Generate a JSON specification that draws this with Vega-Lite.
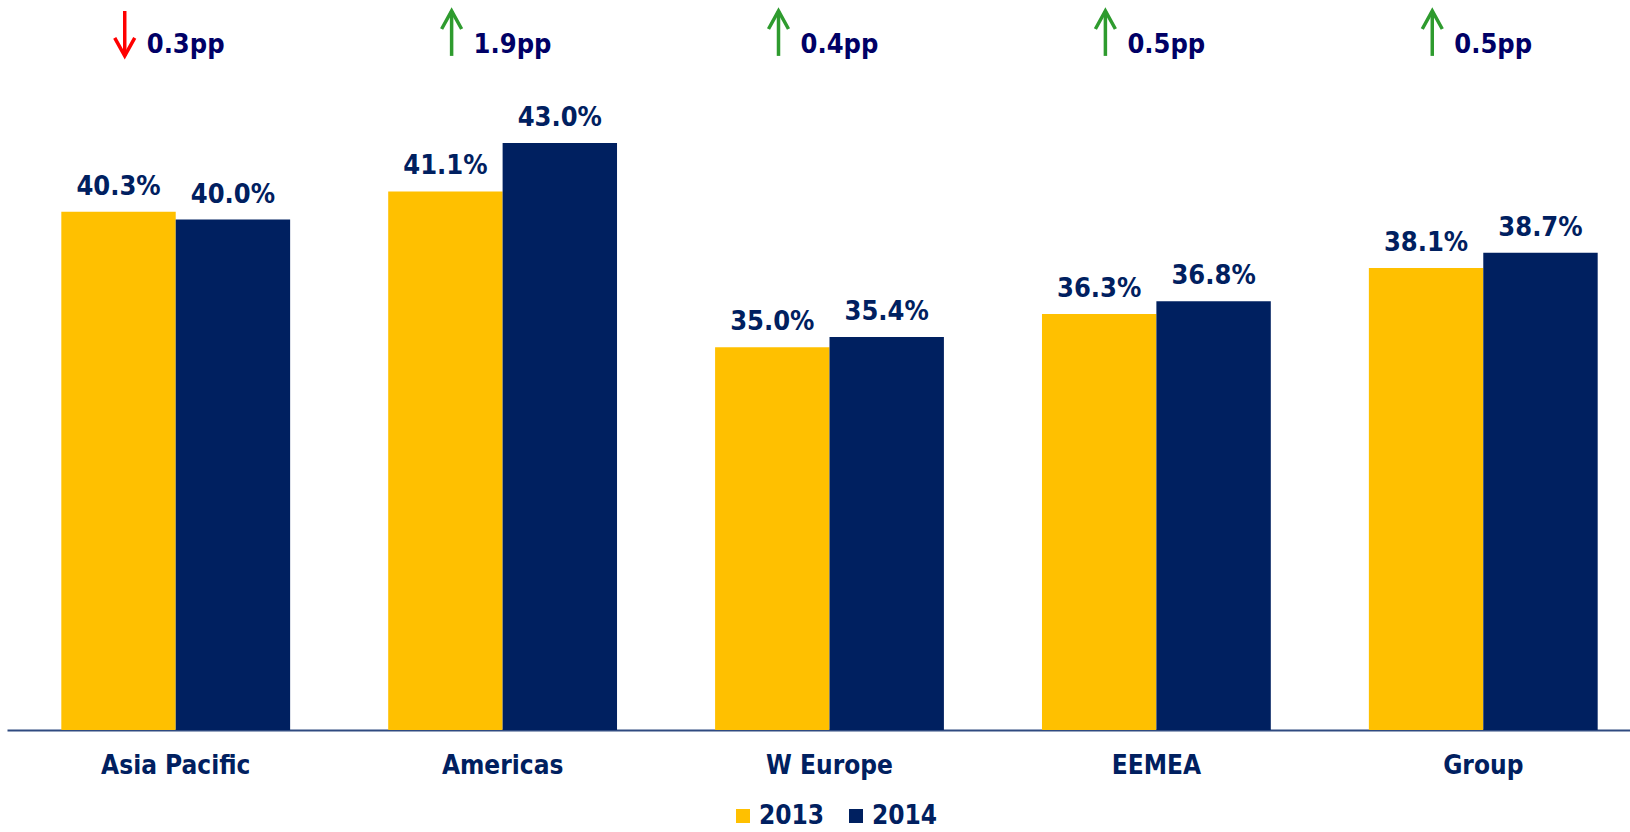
{
  "$schema": "https://vega.github.io/schema/vega-lite/v6.json",
  "width": 1623,
  "height": 730,
  "autosize": {"type": "none"},
  "padding": {"left": 7, "top": 0, "right": 0, "bottom": 102},
  "config": {"view": {"stroke": null}, "font": "DejaVu Sans"},
  "datasets": {
    "bars": [
      {"region": "Asia Pacific", "year": "2013", "value": 0.403},
      {"region": "Asia Pacific", "year": "2014", "value": 0.400},
      {"region": "Americas", "year": "2013", "value": 0.411},
      {"region": "Americas", "year": "2014", "value": 0.430},
      {"region": "W Europe", "year": "2013", "value": 0.350},
      {"region": "W Europe", "year": "2014", "value": 0.354},
      {"region": "EEMEA", "year": "2013", "value": 0.363},
      {"region": "EEMEA", "year": "2014", "value": 0.368},
      {"region": "Group", "year": "2013", "value": 0.381},
      {"region": "Group", "year": "2014", "value": 0.387}
    ],
    "changes": [
      {"region": "Asia Pacific", "change": "0.3pp", "dir": "down"},
      {"region": "Americas", "change": "1.9pp", "dir": "up"},
      {"region": "W Europe", "change": "0.4pp", "dir": "up"},
      {"region": "EEMEA", "change": "0.5pp", "dir": "up"},
      {"region": "Group", "change": "0.5pp", "dir": "up"}
    ]
  },
  "encoding": {
    "x": {
      "field": "region",
      "type": "nominal",
      "sort": ["Asia Pacific", "Americas", "W Europe", "EEMEA", "Group"],
      "scale": {"paddingInner": 0.3, "paddingOuter": 0.1325, "align": 0.627},
      "axis": {
        "title": null,
        "domainColor": "#2f4a80",
        "domainWidth": 2,
        "ticks": false,
        "labelAngle": 0,
        "labelFont": "DejaVu Sans Condensed",
        "labelFontSize": 26,
        "labelFontWeight": "bold",
        "labelColor": "#002060",
        "labelBaseline": "alphabetic",
        "labelPadding": 43
      }
    }
  },
  "layer": [
    {
      "data": {"name": "bars"},
      "mark": {"type": "bar"},
      "encoding": {
        "xOffset": {"field": "year", "type": "nominal", "scale": {"paddingInner": 0, "paddingOuter": 0}},
        "y": {"field": "value", "type": "quantitative", "scale": {"domain": [0.20, 0.486], "nice": false, "zero": false}, "axis": null},
        "y2": {"datum": 0.20},
        "color": {
          "field": "year",
          "type": "nominal",
          "scale": {"domain": ["2013", "2014"], "range": ["#FFC000", "#002060"]},
          "legend": {
            "title": null,
            "orient": "none",
            "legendX": 723,
            "legendY": 803,
            "direction": "horizontal",
            "symbolType": "square",
            "symbolSize": 196,
            "symbolStrokeWidth": 0,
            "labelFont": "DejaVu Sans Condensed",
            "labelFontSize": 26,
            "labelFontWeight": "bold",
            "labelColor": "#002060",
            "labelOffset": 3,
            "columnPadding": 18
          }
        }
      }
    },
    {
      "data": {"name": "bars"},
      "mark": {"type": "text", "baseline": "alphabetic", "dy": -17, "font": "DejaVu Sans Condensed", "fontSize": 27, "fontWeight": "bold", "color": "#002060"},
      "encoding": {
        "xOffset": {"field": "year", "type": "nominal"},
        "y": {"field": "value", "type": "quantitative"},
        "text": {"field": "value", "type": "quantitative", "format": ".1%"}
      }
    },
    {
      "data": {"name": "changes"},
      "mark": {"type": "rule", "xOffset": -51, "strokeWidth": 3.5},
      "encoding": {
        "y": {"datum": 0.4817},
        "y2": {"datum": 0.4641},
        "color": {"condition": {"test": "datum.dir == 'down'", "value": "#ff0000"}, "value": "#2e9b2e"}
      }
    },
    {
      "data": {"name": "changes"},
      "transform": [{"filter": "datum.dir == 'up'"}],
      "mark": {"type": "point", "shape": "M-1,1.8L0,0L1,1.8", "filled": false, "strokeWidth": 3.5, "size": 400, "opacity": 1, "xOffset": -51},
      "encoding": {
        "y": {"datum": 0.4817},
        "color": {"value": "#2e9b2e"}
      }
    },
    {
      "data": {"name": "changes"},
      "transform": [{"filter": "datum.dir == 'down'"}],
      "mark": {"type": "point", "shape": "M-1,-1.8L0,0L1,-1.8", "filled": false, "strokeWidth": 3.5, "size": 400, "opacity": 1, "xOffset": -51},
      "encoding": {
        "y": {"datum": 0.4641},
        "color": {"value": "#ff0000"}
      }
    },
    {
      "data": {"name": "changes"},
      "mark": {"type": "text", "align": "left", "baseline": "alphabetic", "dx": -29, "font": "DejaVu Sans Condensed", "fontSize": 27, "fontWeight": "bold", "color": "#000066"},
      "encoding": {
        "y": {"datum": 0.4652},
        "text": {"field": "change", "type": "nominal"}
      }
    }
  ]
}
